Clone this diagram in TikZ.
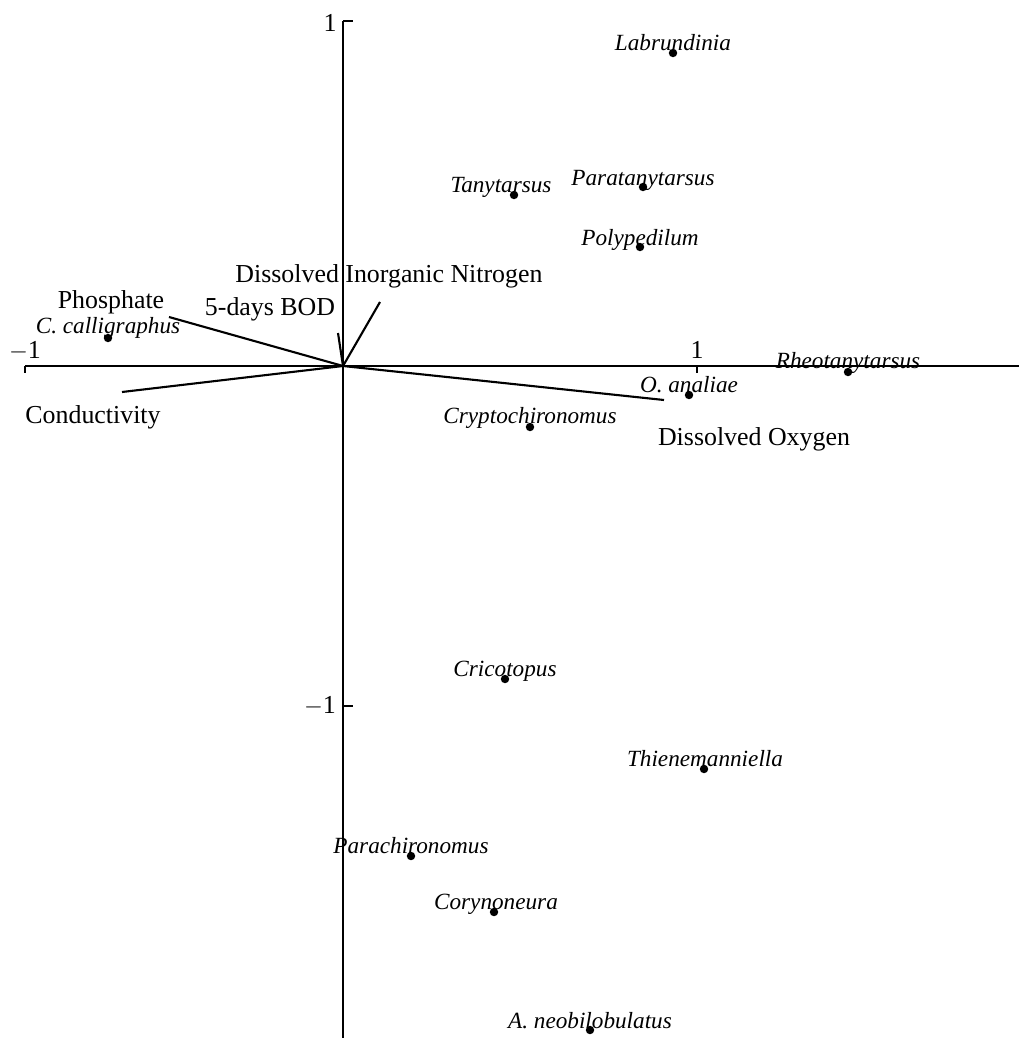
\documentclass[tikz,border=0pt]{standalone}
\usepackage{fontspec}
\setmainfont{Liberation Serif}
\begin{document}
\begin{tikzpicture}[x=0.025cm,y=-0.025cm,
  axis/.style={line width=1.1pt},
  vec/.style={line width=1.5pt},
  env/.style={anchor=base,inner sep=0pt,font=\fontsize{18.4pt}{20pt}\selectfont},
  sp/.style={anchor=base,inner sep=0pt,font=\fontsize{16.5pt}{18pt}\selectfont\itshape},
  dot/.style={circle,fill=black,inner sep=0pt,minimum size=6pt}]
\useasboundingbox (0,0) rectangle (1019,1038);
% axes
\coordinate (o) at (343,366);
\coordinate (vt) at (343,21);
\coordinate (vb) at (343,1038);
\coordinate (hl) at (25,366);
\coordinate (hr) at (1019,366);
\draw[axis] (vt) -- (vb);
\draw[axis] (hl) -- (hr);
\coordinate (t1a) at (353,21);
\draw[axis] (vt) -- (t1a);
\coordinate (t2) at (343,706);
\coordinate (t2a) at (353,706);
\draw[axis] (t2) -- (t2a);
\coordinate (t3) at (697,366);
\coordinate (t3a) at (697,373);
\draw[axis] (t3) -- (t3a);
\coordinate (t4a) at (25,373);
\draw[axis] (hl) -- (t4a);
\node[env] (ly1) at (330,32) {1};
\node[env] (lym1) at (320,713) {$-$1};
\node[env] (lxm1) at (25,358) {$-$1};
\node[env] (lx1) at (697,358) {1};
% vectors
\coordinate (phos) at (169,317);
\coordinate (cond) at (122,392);
\coordinate (bod) at (338,333);
\coordinate (din) at (380,302);
\coordinate (dox) at (664,400);
\draw[vec] (o) -- (phos);
\draw[vec] (o) -- (cond);
\draw[vec] (o) -- (bod);
\draw[vec] (o) -- (din);
\draw[vec] (o) -- (dox);
\node[env] (lphos) at (111,308) {Phosphate};
\node[env] (lbod) at (270,315) {5-days BOD};
\node[env] (ldin) at (389,282) {Dissolved Inorganic Nitrogen};
\node[env] (lcond) at (93,423) {Conductivity};
\node[env] (ldox) at (754,445) {Dissolved Oxygen};
% species
\node[dot] (d1) at (673,53) {};
\node[sp] (s1) at (673,51) {Labrundinia};
\node[dot] (d2) at (514,195) {};
\node[sp] (s2) at (501,192) {Tanytarsus};
\node[dot] (d3) at (643,187) {};
\node[sp] (s3) at (643,185) {Paratanytarsus};
\node[dot] (d4) at (640,247) {};
\node[sp] (s4) at (640,245) {Polypedilum};
\node[dot] (d5) at (108,338) {};
\node[sp] (s5) at (108,333) {C. calligraphus};
\node[dot] (d6) at (848,372) {};
\node[sp] (s6) at (848,368) {Rheotanytarsus};
\node[dot] (d7) at (689,395) {};
\node[sp] (s7) at (689,392) {O. analiae};
\node[dot] (d8) at (530,427) {};
\node[sp] (s8) at (530,423) {Cryptochironomus};
\node[dot] (d9) at (505,679) {};
\node[sp] (s9) at (505,676) {Cricotopus};
\node[dot] (d10) at (704,769) {};
\node[sp] (s10) at (705,766) {Thienemanniella};
\node[dot] (d11) at (411,856) {};
\node[sp] (s11) at (411,853) {Parachironomus};
\node[dot] (d12) at (494,912) {};
\node[sp] (s12) at (496,909) {Corynoneura};
\node[dot] (d13) at (590,1030) {};
\node[sp] (s13) at (590,1028) {A. neobilobulatus};
\end{tikzpicture}
\end{document}
